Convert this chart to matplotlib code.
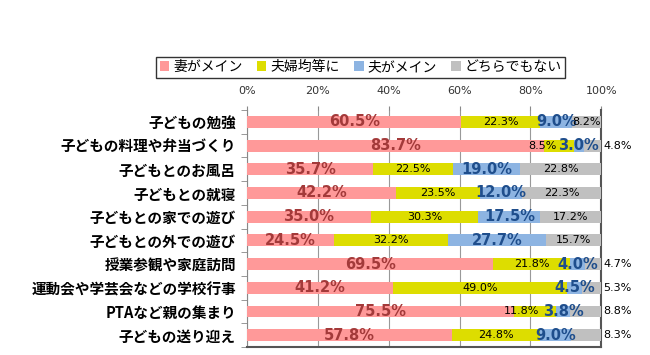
import matplotlib.pyplot as plt
import numpy as np
from matplotlib.patches import Patch

plt.rcParams['font.family'] = ['Noto Sans CJK JP', 'DejaVu Sans']

# categories (top to bottom)
categories = ['子どもの勉強', '子どもの料理や弁当づくり', '子どもとのお風呂', '子どもとの就寝',
              '子どもとの家での遊び', '子どもとの外での遊び', '授業参観や家庭訪問',
              '運動会や学芸会などの学校行事', 'PTAなど親の集まり', '子どもの送り迎え']
series_names = ['妻がメイン', '夫婦均等に', '夫がメイン', 'どちらでもない']
wife = [60.5, 83.7, 35.7, 42.2, 35.0, 24.5, 69.5, 41.2, 75.5, 57.8]
equal = [22.3, 8.5, 22.5, 23.5, 30.3, 32.2, 21.8, 49.0, 11.8, 24.8]
husband = [9.0, 3.0, 19.0, 12.0, 17.5, 27.7, 4.0, 4.5, 3.8, 9.0]
neither = [8.2, 4.8, 22.8, 22.3, 17.2, 15.7, 4.7, 5.3, 8.8, 8.3]

# rows whose last label sits outside the bar
outside_rows = [1, 6, 7, 8, 9]

colors = ['#ff9999', '#dddd00', '#8db4e2', '#c0c0c0']
num_font = ['DejaVu Sans']
label_styles = [
    dict(color='#a33a3a', fontsize=10.5, fontweight='bold', family=num_font),
    dict(color='black', fontsize=8, family=num_font),
    dict(color='#1f4e8c', fontsize=10.5, fontweight='bold', family=num_font),
    dict(color='black', fontsize=8, family=num_font),
]

fig = plt.figure(figsize=(6.5, 3.55), dpi=100)
ax = fig.add_axes([0.38, 0.0225, 0.545, 0.6675])

y = np.arange(len(categories))
data = [wife, equal, husband, neither]
left = np.zeros(len(categories))
for k, vals in enumerate(data):
    vals = np.array(vals)
    ax.barh(y, vals, left=left, height=0.5, color=colors[k], zorder=3)
    for i, v in enumerate(vals):
        txt = f'{v:.1f}%'
        if k == 3 and i in outside_rows:
            ax.text(100.6, y[i], txt, ha='left', va='center', zorder=4, **label_styles[k])
        elif k == 1 and v < 12:
            # narrow segment: label pushed left of the blue label
            ax.text(left[i] + v - 4.9, y[i], txt, ha='right', va='center', zorder=4,
                    **label_styles[k])
        else:
            ax.text(left[i] + v / 2, y[i], txt, ha='center', va='center', zorder=4,
                    **label_styles[k])
    left += vals

ax.set_xlim(0, 100)
ax.set_ylim(len(categories) - 0.5, -0.5)
ax.xaxis.tick_top()
ax.set_xticks(np.arange(0, 101, 20))
ax.set_xticklabels([f'{t}%' for t in range(0, 101, 20)], fontsize=8, color='#333333',
                   family=num_font)
ax.tick_params(axis='x', length=3, color='#888888', pad=7)
ax.set_yticks(y)
ax.set_yticklabels(categories, fontsize=10.5, fontweight='bold')
ax.set_yticks(np.arange(-0.5, len(categories)), minor=True)
ax.tick_params(axis='y', which='major', length=0, pad=8)
ax.tick_params(axis='y', which='minor', length=4, color='#888888')
ax.grid(axis='x', color='#999999', linewidth=0.8, zorder=0)
ax.spines['top'].set_visible(False)
ax.spines['left'].set_color('#888888')
ax.spines['right'].set_color('#555555')
ax.spines['right'].set_linewidth(1.5)
ax.spines['bottom'].set_color('#555555')
ax.spines['bottom'].set_linewidth(1.5)

handles = [Patch(facecolor=c, edgecolor='none') for c in colors]
leg = fig.legend(handles, series_names, loc='center', bbox_to_anchor=(0.555, 0.811), ncol=4,
                 fontsize=10, frameon=True, fancybox=False, handlelength=0.7, handleheight=0.7,
                 handletextpad=0.3, columnspacing=1.0, borderpad=0.25)
leg.get_frame().set_edgecolor('black')
leg.get_frame().set_linewidth(1.0)

fig.savefig('out.png', dpi=100)
